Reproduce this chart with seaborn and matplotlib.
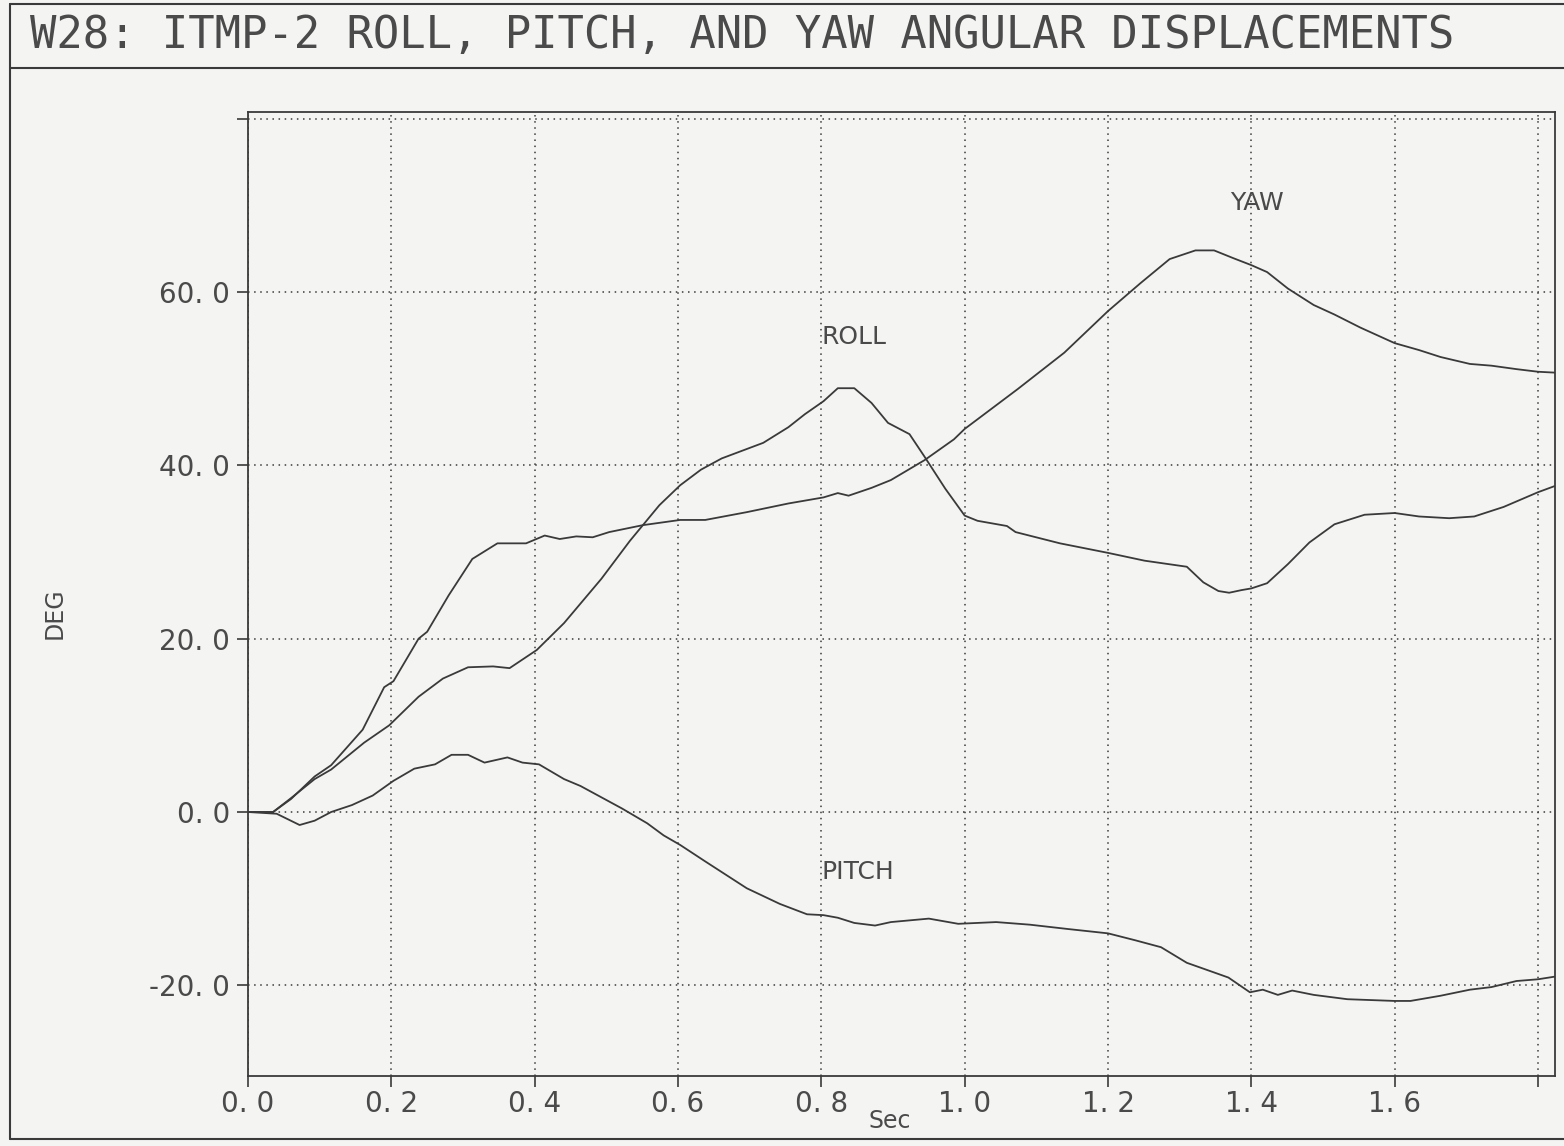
import matplotlib
matplotlib.use("Agg")
import matplotlib.pyplot as plt
from matplotlib.lines import Line2D
import seaborn as sns
import pandas as pd

# ---------------- data ----------------
yaw_t = [0.0, 0.035, 0.06, 0.093, 0.116, 0.16, 0.19, 0.203, 0.238, 0.25, 0.28, 0.313,
         0.348, 0.388, 0.414, 0.435, 0.458, 0.481, 0.504, 0.551, 0.603, 0.638, 0.696,
         0.754, 0.803, 0.823, 0.838, 0.87, 0.897, 0.944, 0.985, 1.0, 1.074, 1.139, 1.2,
         1.245, 1.286, 1.322, 1.348, 1.375, 1.4, 1.422, 1.451, 1.487, 1.516, 1.552, 1.6,
         1.634, 1.664, 1.705, 1.735, 1.77, 1.8, 1.823]
yaw_v = [0.0, 0.0, 1.5, 4.1, 5.4, 9.5, 14.4, 15.1, 20.0, 20.8, 25.0, 29.2,
         31.0, 31.0, 31.9, 31.5, 31.8, 31.7, 32.3, 33.1, 33.7, 33.7, 34.6,
         35.6, 36.3, 36.8, 36.5, 37.4, 38.3, 40.6, 43.0, 44.2, 48.8, 53.0, 57.8,
         61.0, 63.8, 64.8, 64.8, 63.9, 63.1, 62.3, 60.4, 58.5, 57.4, 55.9, 54.1,
         53.3, 52.5, 51.7, 51.5, 51.1, 50.8, 50.7]

roll_t = [0.0, 0.035, 0.06, 0.093, 0.116, 0.162, 0.197, 0.238, 0.272, 0.307, 0.342,
          0.365, 0.403, 0.441, 0.493, 0.533, 0.574, 0.603, 0.632, 0.661, 0.719, 0.754,
          0.777, 0.803, 0.823, 0.846, 0.87, 0.893, 0.923, 0.944, 0.973, 1.0, 1.018,
          1.059, 1.071, 1.133, 1.2, 1.251, 1.31, 1.333, 1.354, 1.369, 1.386, 1.4,
          1.422, 1.451, 1.481, 1.516, 1.558, 1.6, 1.634, 1.676, 1.711, 1.752, 1.8, 1.823]
roll_v = [0.0, 0.0, 1.6, 3.8, 4.9, 8.0, 10.0, 13.3, 15.4, 16.7, 16.8,
          16.6, 18.7, 21.8, 26.9, 31.3, 35.4, 37.7, 39.5, 40.8, 42.6, 44.4,
          45.9, 47.4, 48.9, 48.9, 47.2, 44.9, 43.6, 41.0, 37.3, 34.2, 33.6,
          33.0, 32.3, 31.0, 29.9, 29.0, 28.3, 26.5, 25.5, 25.3, 25.6, 25.8,
          26.4, 28.6, 31.1, 33.2, 34.3, 34.5, 34.1, 33.9, 34.1, 35.2, 36.9, 37.6]

pitch_t = [0.0, 0.04, 0.072, 0.093, 0.116, 0.145, 0.174, 0.203, 0.232, 0.261, 0.284,
           0.307, 0.33, 0.362, 0.383, 0.406, 0.441, 0.464, 0.493, 0.522, 0.557, 0.58,
           0.603, 0.638, 0.696, 0.742, 0.78, 0.803, 0.823, 0.846, 0.875, 0.897, 0.95,
           0.991, 1.044, 1.091, 1.144, 1.2, 1.238, 1.274, 1.31, 1.351, 1.368, 1.398,
           1.416, 1.437, 1.457, 1.487, 1.534, 1.6, 1.622, 1.664, 1.705, 1.735, 1.77,
           1.8, 1.823]
pitch_v = [0.0, -0.2, -1.5, -1.0, 0.0, 0.8, 1.9, 3.6, 5.0, 5.5, 6.6,
           6.6, 5.7, 6.3, 5.7, 5.5, 3.8, 3.0, 1.7, 0.4, -1.3, -2.7,
           -3.8, -5.7, -8.8, -10.6, -11.8, -11.9, -12.2, -12.8, -13.1, -12.7, -12.3,
           -12.9, -12.7, -13.0, -13.5, -14.0, -14.8, -15.6, -17.4, -18.6, -19.1, -20.8,
           -20.5, -21.1, -20.6, -21.1, -21.6, -21.8, -21.8, -21.2, -20.5, -20.2, -19.5,
           -19.3, -19.0]

x_ticks = [0.0, 0.2, 0.4, 0.6, 0.8, 1.0, 1.2, 1.4, 1.6, 1.8]
x_tick_labels = ["0. 0", "0. 2", "0. 4", "0. 6", "0. 8", "1. 0", "1. 2", "1. 4", "1. 6", ""]
y_ticks = [-20, 0, 20, 40, 60, 80]
y_tick_labels = ["-20. 0", "0. 0", "20. 0", "40. 0", "60. 0", ""]

series_names = ["ROLL", "PITCH", "YAW"]
label_pos_t = [0.846, 0.851, 1.408]
label_pos_v = [54.8, -6.9, 70.3]

title_text = "W28: ITMP-2 ROLL, PITCH, AND YAW ANGULAR DISPLACEMENTS"

# ---------------- build ----------------
df = pd.concat([
    pd.DataFrame({"t": roll_t, "deg": roll_v, "series": "ROLL"}),
    pd.DataFrame({"t": pitch_t, "deg": pitch_v, "series": "PITCH"}),
    pd.DataFrame({"t": yaw_t, "deg": yaw_v, "series": "YAW"}),
], ignore_index=True)

sns.set_theme(style="white")
plt.rcParams["font.family"] = ["DejaVu Sans"]

BG = "#f4f4f3"
INK = "#3a3a3a"
TXT = "#4a4a4a"

fig = plt.figure(figsize=(15.64, 11.46), dpi=100, facecolor=BG)
W, H = 1564.0, 1146.0
ax = fig.add_axes([248 / W, 1 - 1076 / H, (1555 - 248) / W, (1076 - 112) / H])
ax.set_facecolor(BG)

sns.lineplot(data=df, x="t", y="deg", hue="series", units="series",
             estimator=None, sort=False,
             palette={"ROLL": INK, "PITCH": INK, "YAW": INK},
             linewidth=1.3, legend=False, ax=ax, zorder=3)

ax.set_xlim(0, 1.8237)
ax.set_ylim(-30.46, 80.77)

ax.set_xticks(x_ticks)
ax.set_xticklabels(x_tick_labels)
ax.set_yticks(y_ticks)
ax.set_yticklabels(y_tick_labels)

ax.grid(True, color=INK, linestyle=(0, (1, 3)), linewidth=1.1, zorder=1)
ax.tick_params(axis="both", which="major", direction="out", length=8, width=1.2,
               color=INK, labelcolor=TXT, labelsize=20, pad=5,
               bottom=True, left=True, top=False, right=False)
ax.tick_params(axis="x", pad=2)
for s in ax.spines.values():
    s.set_visible(True)
    s.set_color(INK)
    s.set_linewidth(1.3)

ax.set_xlabel("")
ax.set_ylabel("")
fig.text(890 / W, 1 - 1121 / H, "Sec", ha="center", va="center",
         fontsize=17, color=TXT)
fig.text(55 / W, 1 - 613 / H, "DEG", rotation=90, ha="center", va="center",
         fontsize=17, color=TXT)

for name, tx, ty in zip(series_names, label_pos_t, label_pos_v):
    ax.text(tx, ty, name, ha="center", va="center", fontsize=18, color=TXT,
            zorder=4)

fig.text(30 / W, 1 - 36 / H, title_text, ha="left", va="center",
         fontsize=31.6, color=TXT, family="DejaVu Sans Mono")

# page frame lines
def fline(x0, y0, x1, y1, lw=1.5):
    fig.add_artist(Line2D([x0 / W, x1 / W], [1 - y0 / H, 1 - y1 / H],
                          transform=fig.transFigure, color=INK, linewidth=lw))

fline(10, 4, 1564, 4)
fline(10, 68, 1564, 68)
fline(10, 1139, 1564, 1139)
fline(10, 4, 10, 1139)

fig.savefig("out.png", dpi=100, facecolor=BG)
